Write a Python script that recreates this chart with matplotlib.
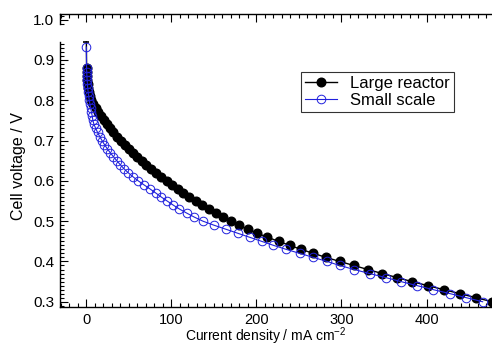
import matplotlib
matplotlib.use("Agg")
import matplotlib.pyplot as plt
import matplotlib.transforms as mtransforms
from matplotlib.ticker import MultipleLocator, FixedLocator, FormatStrFormatter
import numpy as np

plt.rcParams['font.family'] = ['Liberation Sans', 'DejaVu Sans']
plt.rcParams['mathtext.default'] = 'regular'

# Large reactor: first point is open circuit
large_v = [0.945, 0.88, 0.87, 0.86, 0.85, 0.84, 0.83, 0.82, 0.81, 0.80, 0.79,
           0.78, 0.77, 0.76, 0.75, 0.74, 0.73, 0.72, 0.71, 0.70, 0.69,
           0.68, 0.67, 0.66, 0.65, 0.64, 0.63, 0.62, 0.61, 0.60, 0.59,
           0.58, 0.57, 0.56, 0.55, 0.54, 0.53, 0.52, 0.51, 0.50, 0.49,
           0.48, 0.47, 0.46, 0.45, 0.44, 0.43, 0.42, 0.41, 0.40, 0.39,
           0.38, 0.37, 0.36, 0.35, 0.34, 0.33, 0.32, 0.31, 0.30]
large_i = [0.0, 0.3, 0.6, 0.9, 1.2, 1.6, 2.1, 2.9, 4.2, 6.0, 8.2,
           10.8, 13.6, 16.8, 20.2, 23.8, 27.7, 31.8, 36.0, 40.4, 45.0,
           49.7, 54.6, 59.7, 65.0, 70.5, 76.2, 82.1, 88.2, 94.5, 101.0,
           107.5, 114.0, 121.0, 128.5, 136.0, 144.0, 152.0, 160.5, 169.5, 179.0,
           189.5, 201.0, 213.0, 226.0, 239.0, 252.5, 267.0, 282.0, 298.0, 314.5,
           331.0, 348.0, 365.5, 383.0, 401.5, 420.5, 439.5, 458.5, 477.0]

# Small scale
small_v = [0.932, 0.88, 0.87, 0.86, 0.85, 0.84, 0.83, 0.82, 0.81, 0.80, 0.79,
           0.78, 0.77, 0.76, 0.75, 0.74, 0.73, 0.72, 0.71, 0.70, 0.69,
           0.68, 0.67, 0.66, 0.65, 0.64, 0.63, 0.62, 0.61, 0.60, 0.59,
           0.58, 0.57, 0.56, 0.55, 0.54, 0.53, 0.52, 0.51, 0.50, 0.49,
           0.48, 0.47, 0.46, 0.45, 0.44, 0.43, 0.42, 0.41, 0.40, 0.39,
           0.38, 0.37, 0.36, 0.35, 0.34, 0.33, 0.32, 0.31, 0.30]
small_i = [0.0, 0.2, 0.4, 0.6, 0.9, 1.2, 1.6, 2.1, 2.7, 3.4, 4.2,
           5.1, 6.0, 7.0, 7.6, 9.0, 11.0, 13.2, 15.7, 18.4, 21.3,
           24.5, 28.0, 31.8, 35.8, 39.9, 44.3, 49.3, 54.9, 61.0, 67.8,
           74.8, 81.5, 88.0, 95.0, 102.0, 109.5, 118.0, 127.0, 137.0, 150.0,
           164.0, 178.0, 192.0, 206.0, 220.0, 235.0, 251.0, 267.0, 283.0, 298.0,
           315.0, 333.0, 352.0, 370.0, 389.0, 408.0, 428.0, 447.0, 466.0]

blue = '#2020dd'

fig = plt.figure(figsize=(4.92, 3.46), dpi=100)
ax = fig.add_axes([60 / 492, 1 - 307 / 346, 432 / 492, 293 / 346])

ax.plot(large_i, large_v, color='k', lw=1.0, marker='o', ms=6.2,
        markerfacecolor='k', markeredgecolor='k', markevery=list(range(1, len(large_i))),
        label='Large reactor', zorder=3)
ax.plot(large_i[0], large_v[0], marker='_', color='k', ms=5, mew=1.2, zorder=3)
ax.plot(small_i, small_v, color=blue, lw=0.8, marker='o', ms=6.2,
        markerfacecolor='none', markeredgecolor=blue, mew=0.7,
        label='Small scale', zorder=4)

ax.set_xlim(-31, 477)
ax.set_ylim(0.287, 1.014)

ax.xaxis.set_major_locator(MultipleLocator(100))
ax.xaxis.set_minor_locator(MultipleLocator(10))
ax.yaxis.set_major_locator(FixedLocator([0.3, 0.4, 0.5, 0.6, 0.7, 0.8, 0.9, 1.0]))
minor_y = [v for v in np.round(np.arange(0.29, 1.015, 0.01), 2)
           if v <= 0.94 or v >= 0.99]
ax.yaxis.set_minor_locator(FixedLocator(minor_y))
ax.yaxis.set_major_formatter(FormatStrFormatter('%.1f'))

ax.tick_params(which='both', direction='in', top=True, right=False,
               width=0.8, labelsize=11)
ax.tick_params(which='major', length=6)
ax.tick_params(which='minor', length=3)
ax.tick_params(axis='x', pad=4, labelsize=10.5)
ax.tick_params(axis='y', pad=4)

for s in ['left', 'bottom', 'top']:
    ax.spines[s].set_linewidth(1.0)
ax.spines['right'].set_visible(False)
ax.spines['left'].set_bounds(0.287, 0.945)
trans = mtransforms.blended_transform_factory(ax.transAxes, ax.transData)
ax.plot([0, 0], [0.989, 1.014], color='k', lw=1.0, transform=trans, clip_on=False)

leg = ax.legend(loc='upper left', bbox_to_anchor=(241 / 432, 1 - (71.7 - 14) / 293),
                fontsize=12, frameon=True, fancybox=False, handlelength=1.9,
                handletextpad=0.8, borderpad=0.25, labelspacing=0.1,
                borderaxespad=0)
leg.get_frame().set_edgecolor('k')
leg.get_frame().set_linewidth(0.8)

fig.text(19 / 492, 1 - 166 / 346, 'Cell voltage / V', rotation=90,
         ha='center', va='center', fontsize=11.5)
fig.text(266 / 492, 1 - 341 / 346, 'Current density / mA cm$^{-2}$',
         ha='center', va='baseline', fontsize=10)

fig.savefig('out.png', dpi=100)
